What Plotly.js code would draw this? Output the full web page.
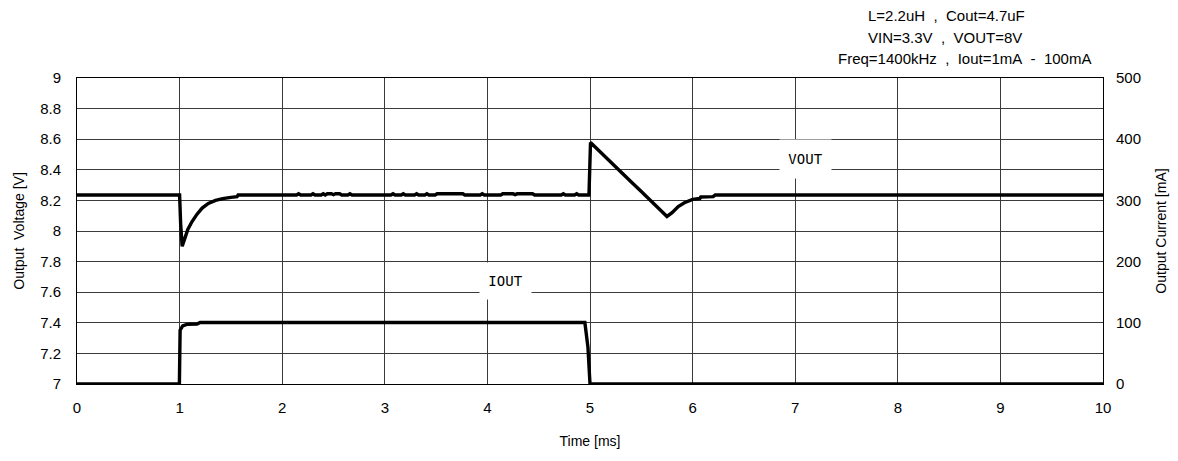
<!DOCTYPE html>
<html>
<head>
<meta charset="utf-8">
<script src="https://cdn.plot.ly/plotly-3.0.1.min.js"></script>
<style>html,body{margin:0;padding:0;background:#fff;}#chart{width:1178px;height:461px;}</style>
</head>
<body>
<div id="chart"></div>
<script>
// Output voltage trace (time in ms, voltage in V)
const voutTime = [0, 1.0, 1.01, 1.025, 1.05, 1.08, 1.12, 1.17, 1.22, 1.28, 1.35, 1.42, 1.5, 1.56, 1.57,
  2.14, 2.16, 2.18, 2.28, 2.30, 2.32, 2.38, 2.40, 2.42, 2.44, 2.48, 2.50, 2.52, 2.56, 2.58, 2.64, 2.66, 2.68,
  3.06, 3.08, 3.10, 3.16, 3.18, 3.20, 3.29, 3.31, 3.33, 3.39, 3.41, 3.43, 3.49, 3.51, 3.54, 3.60, 3.62, 3.64, 3.76, 3.78,
  3.93, 3.95, 3.97, 4.13, 4.15, 4.25, 4.27, 4.29, 4.44, 4.46, 4.72, 4.74, 4.76, 4.85, 4.87, 4.89,
  4.99, 5.005, 5.1, 5.2, 5.3, 5.4, 5.5, 5.6, 5.7, 5.75, 5.8, 5.86, 5.92, 6.0, 6.07, 6.08, 6.2, 6.22, 10];
const voutValue = [8.235, 8.235, 8.05, 7.9, 7.95, 8.01, 8.06, 8.11, 8.15, 8.18, 8.2, 8.212, 8.22, 8.225, 8.235,
  8.235, 8.243, 8.235, 8.235, 8.243, 8.235, 8.235, 8.243, 8.235, 8.243, 8.243, 8.237, 8.243, 8.243, 8.235, 8.235, 8.243, 8.235,
  8.235, 8.243, 8.235, 8.235, 8.243, 8.235, 8.235, 8.243, 8.235, 8.235, 8.243, 8.235, 8.235, 8.243, 8.243, 8.243, 8.239, 8.243, 8.243, 8.235,
  8.235, 8.243, 8.235, 8.235, 8.243, 8.243, 8.238, 8.243, 8.243, 8.235, 8.235, 8.243, 8.235, 8.235, 8.243, 8.235,
  8.235, 8.578, 8.515, 8.452, 8.39, 8.322, 8.258, 8.193, 8.128, 8.095, 8.12, 8.16, 8.185, 8.207, 8.212, 8.222, 8.225, 8.235, 8.235];

// Output current trace (time in ms, current in mA)
const ioutTime = [0, 0.998, 1.005, 1.03, 1.07, 1.17, 1.2, 4.95, 4.98, 5.0, 10];
const ioutValue = [0, 0, 88, 95, 97.5, 98, 100.5, 100.5, 60, 0, 0];

// Axis tick labels
const xTicks = [0, 1, 2, 3, 4, 5, 6, 7, 8, 9, 10];
const yTicks = [7, 7.2, 7.4, 7.6, 7.8, 8, 8.2, 8.4, 8.6, 8.8, 9];
const y2Ticks = [0, 100, 200, 300, 400, 500];

// Condition notes
const notes = ["L=2.2uH\u00a0 ,\u00a0 Cout=4.7uF", "VIN=3.3V\u00a0 ,\u00a0 VOUT=8V", "Freq=1400kHz\u00a0 ,\u00a0 Iout=1mA\u00a0 -\u00a0 100mA"];

const FONT = "Liberation Sans, Arial, sans-serif";
const gridCol = "#3a3a3a";

const traces = [
  {x: voutTime, y: voutValue, mode: "lines", line: {color: "#000", width: 3.4}, cliponaxis: false, showlegend: false, hoverinfo: "skip"},
  {x: ioutTime, y: ioutValue, yaxis: "y2", mode: "lines", line: {color: "#000", width: 3.4}, cliponaxis: false, showlegend: false, hoverinfo: "skip"}
];

const noteY = [15, 37, 58];
const noteX = [946, 945, 964];
const annotations = notes.map((t, i) => ({
  text: t, xref: "paper", yref: "paper",
  x: (noteX[i] - 77) / 1026, y: (384 - noteY[i]) / 306,
  xanchor: "center", yanchor: "middle", showarrow: false,
  font: {family: FONT, size: 15, color: "#000"}
}));
annotations.push({
  text: "VOUT", x: 7.1, y: 8.47, xref: "x", yref: "y", showarrow: false,
  bgcolor: "#fff", width: 51, height: 38, borderpad: 0,
  font: {family: "DejaVu Sans Mono, monospace", size: 14, color: "#000"}
});
annotations.push({
  text: "IOUT", x: 4.18, y: 7.675, xref: "x", yref: "y", showarrow: false,
  bgcolor: "#fff", width: 51, height: 36, borderpad: 0,
  font: {family: "DejaVu Sans Mono, monospace", size: 14, color: "#000"}
});

const layout = {
  width: 1178, height: 461,
  margin: {l: 77, r: 75, t: 78, b: 77},
  paper_bgcolor: "#fff", plot_bgcolor: "#fff",
  font: {family: FONT, size: 14, color: "#000"},
  xaxis: {
    range: [0, 10], tickvals: xTicks, ticktext: xTicks.map(String),
    showgrid: true, gridcolor: gridCol, gridwidth: 1, zeroline: false,
    showline: true, linecolor: "#000", linewidth: 1, mirror: true,
    ticks: "", ticklabelstandoff: 10, tickfont: {family: FONT, size: 15},
    title: {text: "Time [ms]", font: {family: FONT, size: 14}, standoff: 21}, automargin: false
  },
  yaxis: {
    range: [7, 9], tickvals: yTicks, ticktext: yTicks.map(v => String(v)),
    showgrid: true, gridcolor: gridCol, gridwidth: 1, zeroline: false,
    showline: true, linecolor: "#000", linewidth: 1, mirror: true,
    ticks: "", ticklabelstandoff: 12, tickfont: {family: FONT, size: 15},
    title: {text: "Output\u00a0 Voltage [V]", font: {family: FONT, size: 14}, standoff: 12}, automargin: false
  },
  yaxis2: {
    range: [0, 500], tickvals: y2Ticks, ticktext: y2Ticks.map(String),
    overlaying: "y", side: "right", showgrid: false, zeroline: false,
    showline: false, ticks: "", ticklabelstandoff: 12, tickfont: {family: FONT, size: 15},
    title: {text: "Output Current [mA]", font: {family: FONT, size: 14}, standoff: 16}, automargin: false
  },
  annotations: annotations
};

Plotly.newPlot("chart", traces, layout, {staticPlot: true, displayModeBar: false});
</script>
</body>
</html>
